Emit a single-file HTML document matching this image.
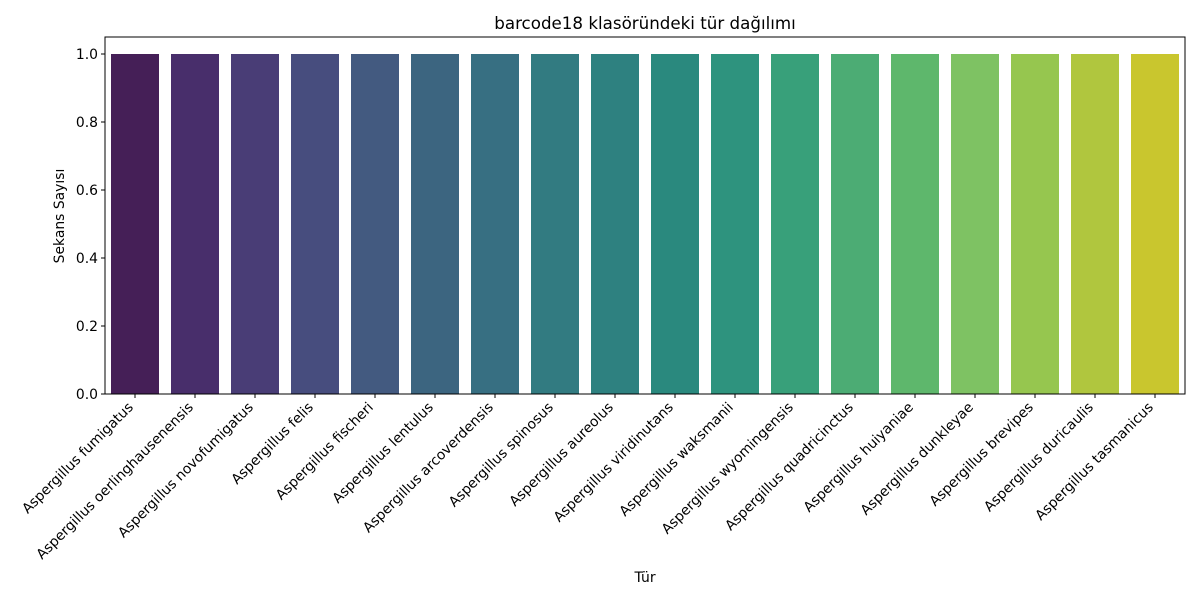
<!DOCTYPE html>
<html><head><meta charset="utf-8"><style>
body{margin:0;background:#fff;}
svg text{font-family:"DejaVu Sans","Liberation Sans",sans-serif;fill:#000;}
</style></head><body>
<svg id="chart" width="1200" height="600">
<rect width="1200" height="600" fill="#fff"/>
<text x="645" y="29" font-size="16.7" text-anchor="middle">barcode18 klasöründeki tür dağılımı</text>
<g id="bars"></g>
<g id="yaxis"></g>
<g id="xaxis"></g>
<rect x="105" y="37" width="1080" height="357" fill="none" stroke="#000" stroke-width="1"/>
<text transform="translate(64,216) rotate(-90)" font-size="13.9" text-anchor="middle">Sekans Sayısı</text>
<text x="645" y="582" font-size="13.9" text-anchor="middle">Tür</text>
</svg>
<script>
const categories=["Aspergillus fumigatus","Aspergillus oerlinghausenensis","Aspergillus novofumigatus","Aspergillus felis","Aspergillus fischeri","Aspergillus lentulus","Aspergillus arcoverdensis","Aspergillus spinosus","Aspergillus aureolus","Aspergillus viridinutans","Aspergillus waksmanii","Aspergillus wyomingensis","Aspergillus quadricinctus","Aspergillus huiyaniae","Aspergillus dunkleyae","Aspergillus brevipes","Aspergillus duricaulis","Aspergillus tasmanicus"];
const counts=[1,1,1,1,1,1,1,1,1,1,1,1,1,1,1,1,1,1];
const yTicks=[0,0.2,0.4,0.6,0.8,1.0];
const colors=["#451f57","#482e6b","#493d76","#474d7e","#435a80","#3c6580","#376f82","#327b81","#2e8180","#2a897e","#2e937e","#38a07a","#4cac74","#5eb76c","#7ec263","#96c64f","#b0c63e","#c9c62e"];
const NS="http://www.w3.org/2000/svg";
const L=105,R=1185,T=37,B=394,yMax=1.05;
const slot=(R-L)/categories.length;
const xC=i=>L+slot*(i+0.5);
const y=v=>B-(v/yMax)*(B-T);
const bars=document.getElementById('bars'),ya=document.getElementById('yaxis'),xa=document.getElementById('xaxis');
function mk(tag,attrs,parent){const e=document.createElementNS(NS,tag);for(const k in attrs)e.setAttribute(k,attrs[k]);parent.appendChild(e);return e;}
counts.forEach((v,i)=>{
 const r=mk('rect',{x:xC(i)-slot*0.4,y:y(v),width:slot*0.8,height:B-y(v),fill:colors[i]},bars);
 
 
 const t=mk('line',{x1:xC(i),x2:xC(i),y1:B,y2:B+4,stroke:'#000'},xa);
 
 
 const lx=xC(i)-1,ly=B+14;
 const tx=mk('text',{x:lx,y:ly,'font-size':13.9,'text-anchor':'end',transform:`rotate(-45 ${lx} ${ly})`},xa);
 tx.textContent=categories[i];
 
 
});
yTicks.forEach(v=>{
 const t=mk('line',{x1:L-4,x2:L,y1:y(v),y2:y(v),stroke:'#000'},ya);
 
 
 const tx=mk('text',{x:L-7,y:y(v)+5,'font-size':13.9,'text-anchor':'end'},ya);
 tx.textContent=v.toFixed(1);
 
 
});
</script>
</body></html>
